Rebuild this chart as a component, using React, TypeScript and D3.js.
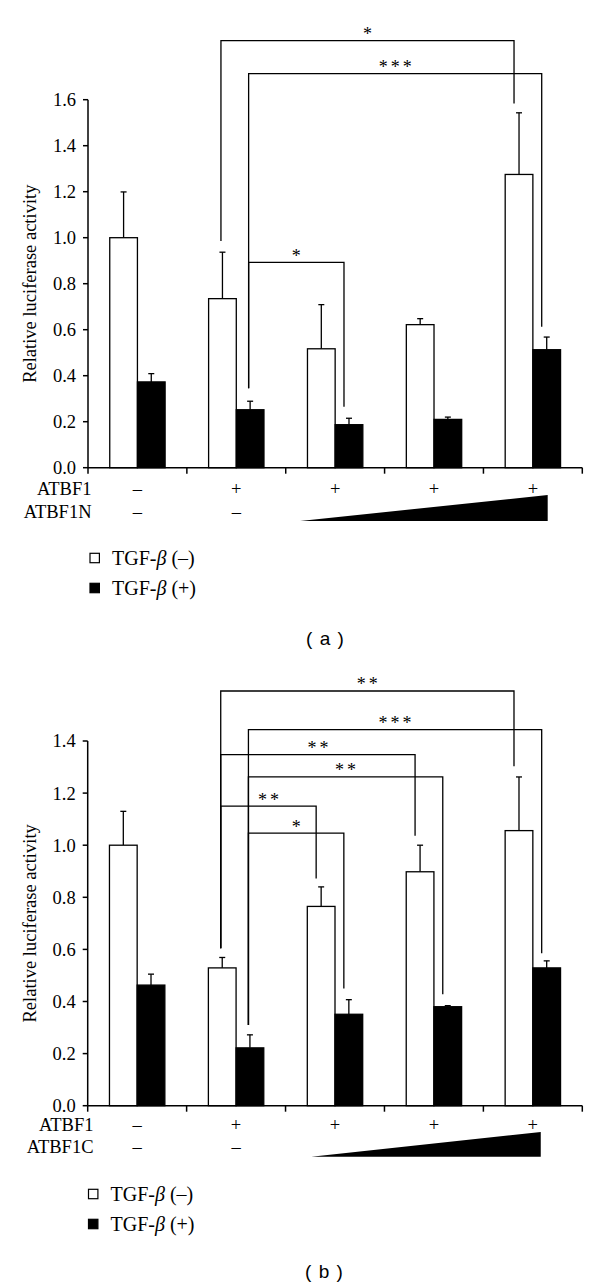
import React from 'react';
import * as d3 from 'd3';

// ---------- data ----------
const groups = ['G1', 'G2', 'G3', 'G4', 'G5'];
const seriesNames = ['TGF-β (–)', 'TGF-β (+)'];
const atbf1Signs = ['–', '+', '+', '+', '+'];
const secondRowSigns = ['–', '–', '', '', ''];

// panel (a)
const aTicks = [0, 0.2, 0.4, 0.6, 0.8, 1.0, 1.2, 1.4, 1.6];
const aTgfMinus = [1.0, 0.735, 0.517, 0.622, 1.275];
const aTgfMinusErr = [0.199, 0.202, 0.192, 0.026, 0.268];
const aTgfPlus = [0.373, 0.252, 0.187, 0.21, 0.513];
const aTgfPlusErr = [0.036, 0.037, 0.028, 0.01, 0.055];
const aBrackets = [
  { label: '*', from: [1, 0], to: [4, 0], top: 1.857, leftEnd: 0.986, rightEnd: 1.584 },
  { label: '***', from: [1, 1], to: [4, 1], top: 1.713, leftEnd: 0.345, rightEnd: 0.613 },
  { label: '*', from: [1, 1], to: [2, 1], top: 0.893, leftEnd: 0.345, rightEnd: 0.265 },
];

// panel (b)
const bTicks = [0, 0.2, 0.4, 0.6, 0.8, 1.0, 1.2, 1.4];
const bTgfMinus = [1.0, 0.529, 0.765, 0.898, 1.056];
const bTgfMinusErr = [0.13, 0.04, 0.075, 0.102, 0.206];
const bTgfPlus = [0.463, 0.222, 0.351, 0.38, 0.529];
const bTgfPlusErr = [0.042, 0.05, 0.056, 0.004, 0.027];
const bBrackets = [
  { label: '**', from: [1, 0], to: [4, 0], top: 1.592, leftEnd: 0.604, rightEnd: 1.303 },
  { label: '***', from: [1, 1], to: [4, 1], top: 1.444, leftEnd: 0.31, rightEnd: 0.585 },
  { label: '**', from: [1, 0], to: [3, 0], top: 1.348, leftEnd: 0.604, rightEnd: 1.036 },
  { label: '**', from: [1, 1], to: [3, 1], top: 1.262, leftEnd: 0.31, rightEnd: 0.428 },
  { label: '**', from: [1, 0], to: [2, 0], top: 1.15, leftEnd: 0.604, rightEnd: 0.872 },
  { label: '*', from: [1, 1], to: [2, 1], top: 1.046, leftEnd: 0.31, rightEnd: 0.45 },
];

const SERIF = '"Liberation Serif", "Times New Roman", Times, serif';
const SANS = '"Liberation Sans", Arial, sans-serif';

type Cfg = {
  ticks: number[];
  yMax: number;
  minus: number[];
  minusErr: number[];
  plus: number[];
  plusErr: number[];
  brackets: any[];
  x0: number; x1: number; yBottom: number; yTop: number;
  rowLabelX: number; row1Y: number; row2Y: number; row2Name: string;
  triStart: number; triEnd: number; triTop: number; triBottom: number;
  legendX: number; legend1Y: number; legend2Y: number;
  panelLabel: string; panelLabelX: number; panelLabelY: number;
};

function Panel({ c }: { c: Cfg }) {
  const x = d3.scaleBand<string>().domain(groups).range([c.x0, c.x1]).padding(0);
  const bw = x.bandwidth() * 0.28;
  const y = d3.scaleLinear().domain([0, c.yMax]).range([c.yBottom, c.yTop]);
  const values = [c.minus, c.plus];
  const errs = [c.minusErr, c.plusErr];
  const barLeft = (g: number, s: number) =>
    (x(groups[g]) as number) + x.bandwidth() / 2 + (s === 0 ? -bw : 0);
  const barCenter = (g: number, s: number) => barLeft(g, s) + bw / 2;
  const gc = (g: number) => (x(groups[g]) as number) + x.bandwidth() / 2;
  const boundaries = [...groups.map((g) => x(g) as number), c.x1];
  const triX0 = (x(groups[2]) as number) + c.triStart * x.bandwidth();
  const triX1 = (x(groups[4]) as number) + c.triEnd * x.bandwidth();

  return (
    <g>
      {/* bars */}
      {[0, 1].map((s) =>
        values[s].map((v, g) => (
          <g key={`b${s}-${g}`}>
            <line
              x1={barCenter(g, s)} x2={barCenter(g, s)}
              y1={y(v)} y2={y(v + errs[s][g])}
              stroke="#000" strokeWidth={1.3}
            />
            <line
              x1={barCenter(g, s) - 3} x2={barCenter(g, s) + 3}
              y1={y(v + errs[s][g])} y2={y(v + errs[s][g])}
              stroke="#000" strokeWidth={1.3}
            />
            <rect
              x={barLeft(g, s)} y={y(v)} width={bw} height={y(0) - y(v)}
              fill={s === 0 ? '#fff' : '#000'} stroke="#000" strokeWidth={1.3}
            />
          </g>
        ))
      )}
      {/* brackets */}
      {c.brackets.map((b, i) => {
        const lx = barCenter(b.from[0], b.from[1]) - 1.5;
        const rx = barCenter(b.to[0], b.to[1]) - 5;
        const ty = y(b.top);
        return (
          <g key={`br${i}`}>
            <path
              d={`M${lx},${y(b.leftEnd)}V${ty}H${rx}V${y(b.rightEnd)}`}
              fill="none" stroke="#000" strokeWidth={1.3}
            />
            <text
              x={(lx + rx) / 2 + 1.5} y={ty - 0.5}
              textAnchor="middle" fontFamily={SERIF} fontSize={18} letterSpacing={3}
            >{b.label}</text>
          </g>
        );
      })}
      {/* y axis */}
      <line x1={c.x0} x2={c.x0} y1={y(0)} y2={y(c.yMax)} stroke="#000" strokeWidth={1.5} />
      {c.ticks.map((t) => (
        <g key={`t${t}`}>
          <line x1={c.x0 - 5} x2={c.x0} y1={y(t)} y2={y(t)} stroke="#000" strokeWidth={1.5} />
          <text
            x={c.x0 - 12} y={y(t)} dy="0.35em" textAnchor="end"
            fontFamily={SERIF} fontSize={18.5}
          >{t.toFixed(1)}</text>
        </g>
      ))}
      <text
        transform={`translate(36,${(y(0) + y(c.yMax)) / 2}) rotate(-90)`}
        textAnchor="middle" fontFamily={SERIF} fontSize={18.5}
      >Relative luciferase activity</text>
      {/* x axis */}
      <line x1={c.x0} x2={c.x1} y1={y(0)} y2={y(0)} stroke="#000" strokeWidth={1.5} />
      {boundaries.map((bx, i) => (
        <line key={`xt${i}`} x1={bx} x2={bx} y1={y(0)} y2={y(0) + 6} stroke="#000" strokeWidth={1.5} />
      ))}
      {/* row labels */}
      <text x={c.rowLabelX} y={c.row1Y} dy="0.35em" textAnchor="end" fontFamily={SERIF} fontSize={18.5}>ATBF1</text>
      <text x={c.rowLabelX} y={c.row2Y} dy="0.35em" textAnchor="end" fontFamily={SERIF} fontSize={18.5}>{c.row2Name}</text>
      {atbf1Signs.map((s, g) => (
        <text key={`r1${g}`} x={gc(g)} y={c.row1Y} dy="0.35em" textAnchor="middle" fontFamily={SERIF} fontSize={18.5}>{s}</text>
      ))}
      {secondRowSigns.map((s, g) => (
        s ? <text key={`r2${g}`} x={gc(g)} y={c.row2Y} dy="0.35em" textAnchor="middle" fontFamily={SERIF} fontSize={18.5}>{s}</text> : null
      ))}
      <polygon
        points={`${triX0},${c.triBottom} ${triX1},${c.triTop} ${triX1},${c.triBottom}`}
        fill="#000"
      />
      {/* legend */}
      {seriesNames.map((n, s) => {
        const ly = s === 0 ? c.legend1Y : c.legend2Y;
        const parts = n.split('β');
        return (
          <g key={`lg${s}`}>
            <rect x={c.legendX} y={ly - 4.7} width={9.4} height={9.4}
              fill={s === 0 ? '#fff' : '#000'} stroke="#000" strokeWidth={1.2} />
            <text x={c.legendX + 22} y={ly} dy="0.35em" fontFamily={SERIF} fontSize={20}>
              {parts[0]}<tspan fontStyle="italic">β</tspan>{parts[1]}
            </text>
          </g>
        );
      })}
      <text x={c.panelLabelX} y={c.panelLabelY} dy="0.35em" textAnchor="middle"
        fontFamily={SANS} fontSize={19} wordSpacing={2}>{c.panelLabel}</text>
    </g>
  );
}

const cfgA: Cfg = {
  ticks: aTicks, yMax: 1.6,
  minus: aTgfMinus, minusErr: aTgfMinusErr, plus: aTgfPlus, plusErr: aTgfPlusErr,
  brackets: aBrackets,
  x0: 88, x1: 582.3, yBottom: 467.7, yTop: 99.7,
  rowLabelX: 91.5, row1Y: 489, row2Y: 511.7, row2Name: 'ATBF1N',
  triStart: 0.146, triEnd: 0.65, triTop: 495, triBottom: 521,
  legendX: 90, legend1Y: 558, legend2Y: 588,
  panelLabel: '( a )', panelLabelX: 325, panelLabelY: 638,
};

const cfgB: Cfg = {
  ticks: bTicks, yMax: 1.4,
  minus: bTgfMinus, minusErr: bTgfMinusErr, plus: bTgfPlus, plusErr: bTgfPlusErr,
  brackets: bBrackets,
  x0: 87.7, x1: 582.3, yBottom: 1105.7, yTop: 741,
  rowLabelX: 93.5, row1Y: 1124.3, row2Y: 1146.7, row2Name: 'ATBF1C',
  triStart: 0.26, triEnd: 0.58, triTop: 1132, triBottom: 1156.7,
  legendX: 88.5, legend1Y: 1194, legend2Y: 1224,
  panelLabel: '( b )', panelLabelX: 324, panelLabelY: 1271.7,
};

export default function App() {
  return (
    <svg
      width={600} height={1287}
      style={{ position: 'absolute', left: 0, top: 0, background: '#fff' }}
    >
      <rect width={600} height={1287} fill="#fff" />
      <Panel c={cfgA} />
      <Panel c={cfgB} />
    </svg>
  );
}
